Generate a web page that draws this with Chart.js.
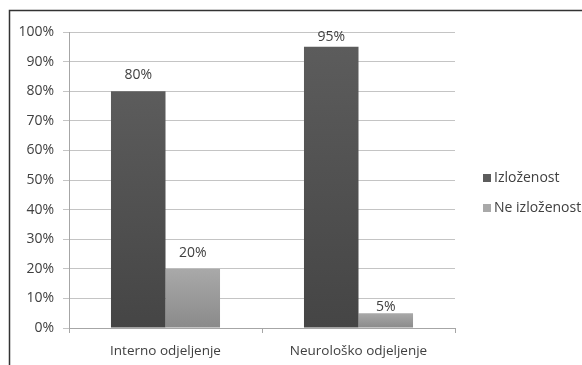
<!DOCTYPE html>
<html>
<head>
<meta charset="utf-8">
<script src="https://cdn.jsdelivr.net/npm/chart.js@4/dist/chart.umd.min.js"></script>
<style>
  html, body { margin: 0; padding: 0; background: #fff; }
  #wrap { width: 582px; height: 365px; position: relative; }
</style>
</head>
<body>
<div id="wrap"><canvas id="c"></canvas></div>
<script>
const categories = ['Interno odjeljenje', 'Neurološko odjeljenje'];
const seriesNames = ['Izloženost', 'Ne izloženost'];
const exposed = [80, 95];
const notExposed = [20, 5];
const yTicks = [0, 10, 20, 30, 40, 50, 60, 70, 80, 90, 100];

const FONT = '"Open Sans", "Noto Sans", sans-serif';
const TEXT = '#404040';

// top/bottom shades for each series' vertical gradient
const shades = [
  ['#5c5c5c', '#454545'],
  ['#a9a9a9', '#8a8a8a'],
];

// how far above the bar top each value label sits, per series / category
const labelLift = [
  [16, 10],
  [16, 6],
];

function barGradient(idx) {
  return (ctx) => {
    const chart = ctx.chart;
    if (!chart.chartArea || ctx.raw == null) return shades[idx][0];
    const y = chart.scales.y;
    const top = y.getPixelForValue(ctx.raw);
    const bottom = y.getPixelForValue(0);
    if (bottom - top < 1) return shades[idx][0];
    const g = chart.ctx.createLinearGradient(0, top, 0, bottom);
    g.addColorStop(0, shades[idx][0]);
    g.addColorStop(1, shades[idx][1]);
    return g;
  };
}

// outer frame, value labels and side legend
const decorations = {
  id: 'decorations',
  afterDraw(chart) {
    const c = chart.ctx;
    c.save();
    c.strokeStyle = '#333';
    c.lineWidth = 1.5;
    c.strokeRect(9.5, 10.5, 620, 400);

    c.font = '14px ' + FONT;
    c.fillStyle = TEXT;
    c.textAlign = 'center';
    c.textBaseline = 'middle';
    chart.data.datasets.forEach((ds, di) => {
      chart.getDatasetMeta(di).data.forEach((bar, i) => {
        c.fillText(ds.data[i] + '%', bar.x, bar.y - labelLift[di][i]);
      });
    });

    c.textAlign = 'left';
    const rows = [178, 208];
    chart.data.datasets.forEach((ds, di) => {
      c.fillStyle = shades[di][0];
      c.fillRect(483, rows[di] - 4, 8, 8);
      c.fillStyle = TEXT;
      c.fillText(ds.label, 494, rows[di]);
    });
    c.restore();
  }
};

new Chart(document.getElementById('c'), {
  type: 'bar',
  data: {
    labels: categories,
    datasets: [
      { label: seriesNames[0], data: exposed, backgroundColor: barGradient(0) },
      { label: seriesNames[1], data: notExposed, backgroundColor: barGradient(1) },
    ],
  },
  options: {
    responsive: true,
    maintainAspectRatio: false,
    animation: false,
    layout: { padding: { left: 0, top: 32, right: 127, bottom: 0 } },
    datasets: { bar: { categoryPercentage: 0.565, barPercentage: 1, borderWidth: 0 } },
    plugins: { legend: { display: false }, tooltip: { enabled: false } },
    scales: {
      x: {
        afterFit(s) { s.height = 37; },
        grid: { drawOnChartArea: false, drawTicks: true, tickLength: 5, color: '#a6a6a6', offset: true },
        border: { color: '#a6a6a6' },
        ticks: { color: TEXT, font: { family: FONT, size: 13.5 }, padding: 10 },
      },
      y: {
        min: 0,
        max: 100,
        afterFit(s) { s.width = 69; },
        afterBuildTicks(s) { s.ticks = yTicks.map(v => ({ value: v })); },
        grid: { color: '#c4c4c4', tickLength: 6 },
        border: { color: '#a6a6a6' },
        ticks: {
          color: TEXT,
          font: { family: FONT, size: 14 },
          padding: 9,
          callback: v => v + '%',
        },
      },
    },
  },
  plugins: [decorations],
});
</script>
</body>
</html>
